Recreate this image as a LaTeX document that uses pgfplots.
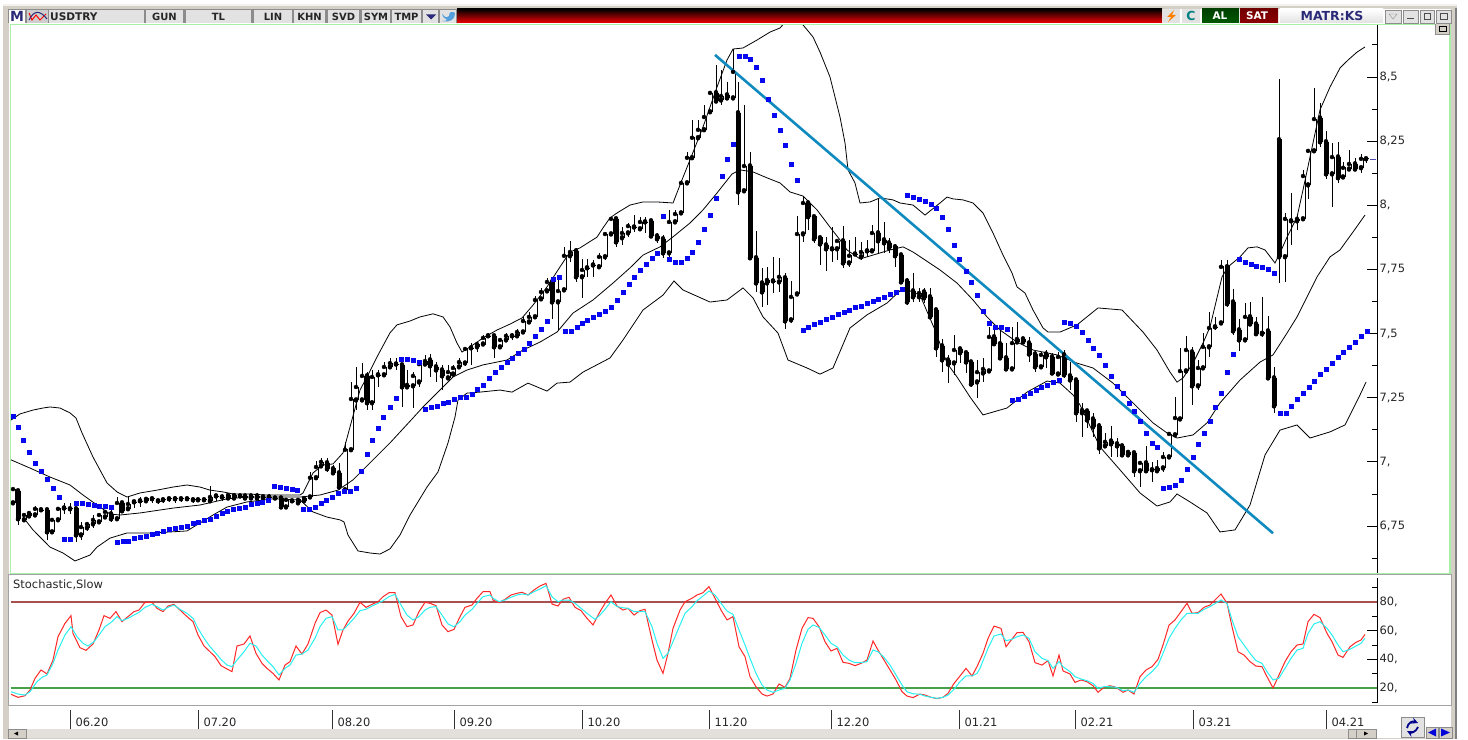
\documentclass[border=0pt]{standalone}
\usepackage{fontspec}
\setmainfont{DejaVu Sans}
\usepackage{pgfplots}
\usepackage{pgfplotstable}
\pgfplotsset{compat=1.18}
\definecolor{winbg}{HTML}{D4D0C8}
\definecolor{fieldbg}{HTML}{E2E2E2}
\definecolor{fieldbd}{HTML}{8C8C8C}
\definecolor{greenln}{HTML}{A8F0A8}
\definecolor{trend}{HTML}{0F8ABF}
\definecolor{sarblue}{HTML}{0808F0}
\definecolor{obred}{HTML}{A85050}
\definecolor{osgreen}{HTML}{48A048}
\definecolor{navy}{HTML}{2A2A78}
\definecolor{stred}{HTML}{FF2828}
\definecolor{stcyan}{HTML}{28F0F0}
\pgfplotstableread{
x o h l c
13 6.840 6.898 6.832 6.894
18 6.887 6.887 6.755 6.778
24 6.774 6.801 6.766 6.793
29 6.789 6.805 6.785 6.801
35 6.793 6.828 6.793 6.817
41 6.813 6.820 6.805 6.813
47 6.813 6.813 6.696 6.727
52 6.727 6.782 6.727 6.774
58 6.774 6.820 6.774 6.817
64 6.820 6.840 6.797 6.820
70 6.817 6.840 6.797 6.817
76 6.817 6.817 6.688 6.715
81 6.715 6.766 6.696 6.746
87 6.743 6.766 6.731 6.758
93 6.758 6.793 6.743 6.774
99 6.766 6.793 6.766 6.793
105 6.785 6.813 6.785 6.805
111 6.797 6.820 6.766 6.778
117 6.778 6.863 6.778 6.840
122 6.840 6.840 6.805 6.809
128 6.817 6.863 6.817 6.836
134 6.844 6.852 6.820 6.844
140 6.848 6.863 6.824 6.848
146 6.848 6.856 6.848 6.856
152 6.856 6.863 6.840 6.856
158 6.848 6.856 6.836 6.848
163 6.852 6.859 6.840 6.852
169 6.856 6.859 6.844 6.856
175 6.856 6.867 6.840 6.856
181 6.856 6.863 6.844 6.856
187 6.856 6.863 6.848 6.856
193 6.852 6.856 6.840 6.852
198 6.852 6.856 6.844 6.852
204 6.852 6.856 6.844 6.852
210 6.848 6.906 6.848 6.863
216 6.867 6.875 6.848 6.867
222 6.863 6.875 6.848 6.863
228 6.859 6.875 6.856 6.871
234 6.859 6.875 6.856 6.871
240 6.867 6.875 6.863 6.867
245 6.867 6.875 6.859 6.859
251 6.867 6.875 6.859 6.859
257 6.867 6.879 6.856 6.859
263 6.863 6.871 6.856 6.859
269 6.863 6.875 6.859 6.863
275 6.859 6.859 6.856 6.859
281 6.859 6.859 6.817 6.824
286 6.824 6.852 6.824 6.852
292 6.848 6.852 6.844 6.848
298 6.840 6.852 6.840 6.852
304 6.848 6.863 6.848 6.859
310 6.863 6.961 6.859 6.938
316 6.938 7.004 6.934 6.980
321 6.984 7.016 6.980 7.000
327 6.996 7.016 6.961 6.973
333 6.973 6.988 6.950 6.957
339 6.957 6.996 6.891 6.902
345 6.891 7.078 6.891 7.047
351 7.047 7.311 7.047 7.245
356 7.241 7.370 7.202 7.292
362 7.241 7.385 7.241 7.335
367 7.335 7.350 7.202 7.230
372 7.230 7.358 7.202 7.331
378 7.339 7.358 7.292 7.339
384 7.339 7.389 7.335 7.370
390 7.370 7.405 7.366 7.385
396 7.381 7.405 7.358 7.381
402 7.378 7.385 7.214 7.292
407 7.292 7.358 7.292 7.300
413 7.296 7.350 7.210 7.335
419 7.311 7.397 7.292 7.381
425 7.381 7.417 7.378 7.393
430 7.397 7.420 7.331 7.374
436 7.370 7.389 7.311 7.358
442 7.358 7.378 7.280 7.335
448 7.327 7.378 7.327 7.350
453 7.342 7.378 7.331 7.366
459 7.370 7.405 7.366 7.389
465 7.385 7.448 7.374 7.440
471 7.444 7.463 7.378 7.444
477 7.448 7.463 7.428 7.459
483 7.459 7.495 7.456 7.483
488 7.491 7.503 7.483 7.491
494 7.491 7.495 7.405 7.448
500 7.448 7.483 7.444 7.475
506 7.475 7.503 7.467 7.491
512 7.491 7.503 7.475 7.491
517 7.491 7.518 7.487 7.506
523 7.506 7.565 7.503 7.549
529 7.545 7.584 7.541 7.565
535 7.565 7.647 7.561 7.631
541 7.635 7.678 7.627 7.662
547 7.666 7.717 7.662 7.701
552 7.701 7.721 7.557 7.623
558 7.623 7.721 7.514 7.666
564 7.670 7.838 7.670 7.803
570 7.803 7.861 7.779 7.818
576 7.822 7.834 7.701 7.721
582 7.721 7.791 7.639 7.748
587 7.756 7.791 7.721 7.756
593 7.767 7.787 7.721 7.767
599 7.760 7.814 7.756 7.799
605 7.799 7.896 7.787 7.888
611 7.888 7.951 7.884 7.947
616 7.947 7.951 7.838 7.857
622 7.873 7.915 7.845 7.892
628 7.892 7.931 7.876 7.919
634 7.915 7.962 7.896 7.915
640 7.908 7.954 7.908 7.935
645 7.935 7.954 7.892 7.935
651 7.939 7.943 7.873 7.880
657 7.880 7.892 7.853 7.869
663 7.869 7.884 7.795 7.814
669 7.814 7.982 7.799 7.935
675 7.935 7.982 7.935 7.966
681 7.970 8.099 7.970 8.087
687 8.087 8.208 8.087 8.185
692 8.185 8.333 8.185 8.263
698 8.263 8.333 8.263 8.294
704 8.294 8.391 8.294 8.344
710 8.364 8.442 8.360 8.438
716 8.438 8.547 8.402 8.406
721 8.410 8.527 8.391 8.426
727 8.430 8.481 8.418 8.418
733 8.418 8.609 8.418 8.520
738 8.360 8.481 8.001 8.052
744 8.056 8.391 8.052 8.153
750 8.153 8.208 7.787 7.795
756 7.795 7.900 7.662 7.697
762 7.697 7.756 7.604 7.662
767 7.697 7.760 7.612 7.709
773 7.705 7.799 7.658 7.705
779 7.701 7.795 7.662 7.721
785 7.717 7.736 7.518 7.549
791 7.553 7.705 7.541 7.643
797 7.654 7.958 7.650 7.888
803 7.888 8.036 7.857 8.009
808 8.009 8.009 7.904 7.955
814 7.955 7.955 7.853 7.869
820 7.873 7.877 7.767 7.849
826 7.845 7.877 7.744 7.830
832 7.830 7.915 7.779 7.830
837 7.830 7.865 7.787 7.861
843 7.861 7.919 7.756 7.775
849 7.775 7.865 7.760 7.803
855 7.810 7.877 7.806 7.810
861 7.799 7.857 7.787 7.818
867 7.822 7.865 7.799 7.822
872 7.822 7.923 7.822 7.892
878 7.892 8.029 7.814 7.861
884 7.865 7.935 7.814 7.853
889 7.853 7.873 7.814 7.834
895 7.838 7.849 7.760 7.803
901 7.806 7.806 7.697 7.701
907 7.705 7.717 7.612 7.623
913 7.666 7.736 7.623 7.643
919 7.643 7.678 7.623 7.658
924 7.662 7.678 7.619 7.639
930 7.643 7.678 7.553 7.565
936 7.592 7.592 7.409 7.444
942 7.452 7.479 7.350 7.397
948 7.397 7.417 7.307 7.381
954 7.385 7.495 7.339 7.436
960 7.440 7.444 7.385 7.425
966 7.425 7.425 7.346 7.389
971 7.389 7.389 7.292 7.303
977 7.311 7.397 7.249 7.350
983 7.346 7.405 7.311 7.362
989 7.354 7.526 7.350 7.487
994 7.487 7.526 7.456 7.460
1000 7.460 7.514 7.397 7.405
1006 7.405 7.463 7.358 7.362
1012 7.362 7.526 7.362 7.463
1017 7.467 7.545 7.467 7.479
1023 7.479 7.487 7.463 7.467
1029 7.463 7.487 7.389 7.420
1035 7.420 7.436 7.350 7.370
1041 7.370 7.428 7.366 7.417
1046 7.420 7.436 7.366 7.409
1052 7.409 7.425 7.339 7.346
1058 7.342 7.428 7.339 7.409
1064 7.417 7.436 7.327 7.339
1070 7.335 7.389 7.280 7.319
1076 7.319 7.319 7.156 7.191
1082 7.191 7.230 7.097 7.202
1087 7.198 7.202 7.132 7.163
1093 7.167 7.191 7.097 7.136
1099 7.140 7.152 7.031 7.054
1105 7.062 7.113 7.054 7.078
1111 7.081 7.140 7.019 7.070
1117 7.070 7.093 7.019 7.062
1122 7.062 7.070 7.019 7.027
1128 7.027 7.047 7.019 7.039
1134 7.035 7.039 6.942 6.965
1140 6.965 7.000 6.903 6.996
1146 6.996 7.062 6.961 6.965
1152 6.969 7.000 6.922 6.969
1157 6.965 7.008 6.961 6.976
1163 6.976 7.039 6.961 7.019
1169 7.019 7.117 7.015 7.109
1175 7.105 7.253 7.097 7.171
1180 7.167 7.444 7.163 7.354
1186 7.354 7.491 7.350 7.436
1192 7.428 7.448 7.222 7.296
1198 7.296 7.397 7.280 7.366
1203 7.366 7.503 7.366 7.448
1209 7.448 7.584 7.409 7.522
1215 7.526 7.565 7.514 7.526
1221 7.541 7.787 7.533 7.760
1227 7.760 7.787 7.604 7.616
1233 7.623 7.674 7.495 7.510
1239 7.514 7.557 7.432 7.475
1245 7.475 7.619 7.475 7.565
1250 7.565 7.623 7.537 7.537
1256 7.537 7.565 7.495 7.499
1262 7.499 7.643 7.487 7.503
1268 7.510 7.569 7.323 7.327
1274 7.327 7.370 7.190 7.218
1279 8.255 8.492 7.697 7.799
1285 7.799 7.970 7.701 7.947
1291 7.939 8.048 7.845 7.939
1297 7.939 7.962 7.904 7.947
1303 7.947 8.138 7.943 8.114
1308 8.079 8.216 8.025 8.212
1314 8.212 8.457 8.204 8.336
1320 8.340 8.399 8.227 8.247
1326 8.247 8.289 8.103 8.122
1332 8.122 8.243 7.993 8.188
1338 8.188 8.247 8.087 8.107
1343 8.110 8.169 8.110 8.146
1349 8.141 8.216 8.138 8.161
1355 8.161 8.185 8.134 8.141
1361 8.146 8.200 8.126 8.181
1366 8.181 8.188 8.165 8.181
}\candles
\begin{document}
\begin{tikzpicture}
% ---------- window chrome ----------
\begin{scope}[x=1bp,y=-1bp]
\path[use as bounding box] (0,0) rectangle (1468,739);
\fill[white] (0,0) rectangle (1468,739);
\fill[winbg] (3,4) rectangle (1457,739);
\fill[white!70!winbg] (3,4) rectangle (1457,6);
\fill[gray] (1455,8) rectangle (1457,739);
\fill[white] (9,9) rectangle (1451,729);
% green frame of the price panel, grey frame of the lower panel
\draw[greenln,line width=1.2bp] (10.5,573.5) -- (10.5,24.5) -- (1450,24.5) -- (1450,573.5) -- cycle;
\draw[fieldbd!80!white,line width=1bp] (9,574.6) -- (1451,574.6);
\draw[fieldbd!80!white,line width=1bp] (8.5,574) -- (8.5,705.5) -- (1451,705.5) -- (1451,574);
% title bar
\fill[fieldbd] (8,9) rectangle (457,23);
\fill[white] (9,10) rectangle (25,23);
\node[font=\fontsize{14}{14}\selectfont\bfseries,text=navy,inner sep=0pt] at (17,16.5) {M};
\fill[fieldbg!80!gray] (27,10) rectangle (48,23);
\draw[red,line width=1pt] (29,13) -- (32,20) -- (36,15) -- (40,20) -- (46,14);
\draw[navy,line width=1pt] (29,20) .. controls (34,10) and (40,10) .. (47,19);
\foreach \a/\b/\t in {49/144/,146/183/GUN,186/251/TL,254/292/LIN,294/325/KHN,328/359/SVD,362/390/SYM,392/421/TMP}{
  \fill[fieldbg] (\a,10) rectangle (\b,23);
  \node[font=\fontsize{10}{10}\selectfont\bfseries,text=black!85,inner sep=0pt] at ({(\a+\b)/2},16.5) {\t};
}
\node[font=\fontsize{10.6}{10}\selectfont\bfseries,text=black!85,inner sep=0pt,anchor=west] at (50,16.5) {USDTRY};
\fill[fieldbg] (423,10) rectangle (438,23);
\fill[navy] (426,14.5) -- (436,14.5) -- (431,19.5) -- cycle;
\fill[fieldbg] (440,10) rectangle (456,23);
\fill[cyan!65!blue!70!white] (442,14) .. controls (446,19) and (448,17) .. (449,16) .. controls (449,12) and (452,11) .. (454,12) -- (455,14) .. controls (455,19) and (450,23) .. (442,21) .. controls (446,21) and (447,20) .. (447,19.5) .. controls (444,19) and (443,17) .. (442,14) -- cycle;
\shade[top color=black,bottom color=red!95!black] (457,9) rectangle (1162,23);
\fill[fieldbg] (1163,9) rectangle (1180,23);
\fill[orange] (1174,10) -- (1167,17) -- (1171,17) -- (1168,22) -- (1176,15) -- (1172,15) -- cycle;
\fill[fieldbg] (1182,9) rectangle (1200,23);
\node[font=\fontsize{12.5}{12}\selectfont\bfseries,text=teal,inner sep=0pt] at (1191,16) {C};
\shade[top color=green!25!black,bottom color=green!35!black] (1202,9) rectangle (1239,23);
\node[font=\fontsize{10.5}{10}\selectfont\bfseries,text=white,inner sep=0pt] at (1220,16) {AL};
\shade[top color=red!45!black,bottom color=red!55!black] (1240,9) rectangle (1278,23);
\node[font=\fontsize{10.5}{10}\selectfont\bfseries,text=white,inner sep=0pt] at (1257,16) {SAT};
\shade[top color=white,bottom color=fieldbg] (1280,9) rectangle (1383,23);
\node[font=\fontsize{12.5}{12}\selectfont\bfseries,text=navy,inner sep=0pt] at (1332,16) {MATR:KS};
\foreach \a/\b in {1385/1401,1403/1418,1420/1434,1436/1451}{
  \fill[fieldbg] (\a,10) rectangle (\b,23);
  \draw[fieldbd,line width=.5bp] (\a,10) rectangle (\b,23);
}
\draw[fieldbd] (1389,14) -- (1397,14) -- (1393,19) -- cycle;
\draw[black!70,line width=.8bp] (1407,18) -- (1414,18);
\draw[black!70,line width=.7bp] (1424,13) rectangle (1430,19);
\draw[black!70,line width=.7bp] (1440,13) rectangle (1447,19);
\fill[fieldbd] (1435,24) rectangle (1450,35);
\fill[winbg] (1435.5,24.5) rectangle (1449,34);
\draw[black,line width=.9bp] (1439,26.5) rectangle (1446,31.5);
% scrollbar
\fill[winbg!65!white] (26,729) rectangle (1348,738);
\fill[winbg] (8,729) rectangle (26,738);
\draw[fieldbd,line width=.5bp] (8,729) rectangle (26,738);
\fill[black] (18,731.5) -- (18,735.5) -- (14,733.5) -- cycle;
\fill[winbg] (1348,729) rectangle (1376,738);
\draw[fieldbd,line width=.5bp] (1348,729) rectangle (1356,738);
\draw[fieldbd,line width=.5bp] (1356,729) rectangle (1376,738);
\fill[black] (1364,731.5) -- (1364,735.5) -- (1368,733.5) -- cycle;
\fill[white] (1377,706) rectangle (1451,729);
\fill[white] (1377,729) rectangle (1451,738);
\fill[fieldbg] (1401,717) rectangle (1424,737);
\draw[fieldbd,line width=.8bp] (1401,717) rectangle (1424,737);
\draw[blue!55!black,line width=1.8bp,->,>=stealth] (1407,728) .. controls (1408,722) and (1413,721) .. (1418,723);
\draw[blue!55!black,line width=1.8bp,->,>=stealth] (1418,727) .. controls (1416,732) and (1411,733) .. (1407,731);
\fill[winbg] (1426,727) rectangle (1438,738);
\fill[winbg] (1439,727) rectangle (1452,738);
\draw[fieldbd,line width=.5bp] (1426,727) rectangle (1438,738);
\draw[fieldbd,line width=.5bp] (1439,727) rectangle (1452,738);
\fill[blue!85!black] (1436,728.5) -- (1436,736.5) -- (1428,732.5) -- cycle;
\fill[blue!85!black] (1441,728.5) -- (1441,736.5) -- (1450,732.5) -- cycle;
\node[font=\fontsize{11.5}{12}\selectfont,text=black!85,anchor=west,inner sep=0pt] at (13,585) {Stochastic,Slow};
\end{scope}
% ---------- price panel ----------
\begin{axis}[
  at={(11bp,-573bp)},anchor=south west,scale only axis,
  width=1366bp,height=548bp,
  xmin=11,xmax=1377,ymin=6.567,ymax=8.7026,
  axis x line=none,axis y line=right,
  axis line style={black,line width=1bp,-},
  tick align=inside,
  ytick={6.75,7,7.25,7.5,7.75,8,8.25,8.5},
  yticklabels={{6,75},{7,},{7,25},{7,5},{7,75},{8,},{8,25},{8,5}},
  minor ytick={6.625,6.875,7.125,7.375,7.625,7.875,8.125,8.375,8.625},
  major tick length=10bp,minor tick length=5bp,
  tick style={black,line width=.9bp},
  yticklabel style={font=\fontsize{11.5}{12}\selectfont,anchor=west,text=black!85,xshift=-1bp},
]
% wicks
\addplot[black,only marks,mark=none,forget plot,
  error bars/.cd,y dir=both,y explicit,error mark=none,
  error bar style={black,line width=.9bp}]
  table[x=x,y=c,y error plus expr=\thisrow{h}-\thisrow{c},y error minus expr=\thisrow{c}-\thisrow{l}] {\candles};
% bodies
\addplot[black,only marks,mark=none,forget plot,
  error bars/.cd,y dir=plus,y explicit,error mark=none,
  error bar style={black,line width=5bp}]
  table[x=x,y expr={min(\thisrow{o},\thisrow{c})-0.0015},y error plus expr={abs(\thisrow{c}-\thisrow{o})+0.003}] {\candles};
\addplot[black,only marks,mark=none,forget plot,
  error bars/.cd,y dir=plus,y explicit,error mark=none,
  error bar style={white,line width=3.4bp}]
  table[x=x,y expr={\thisrow{o}+0.0025},y error plus expr={max(\thisrow{c}-\thisrow{o}-0.005,0)}] {\candles};
% Bollinger upper
\addplot[black,line width=.8bp,mark=none,forget plot] coordinates {(11,7.163)(20,7.187)(33,7.202)(43,7.210)(50,7.214)(60,7.210)(70,7.191)(76,7.171)(82,7.113)(93,7.019)(107,6.918)(117,6.883)(127,6.863)(140,6.879)(157,6.890)(173,6.902)(187,6.910)(200,6.902)(210,6.890)(223,6.883)(233,6.875)(247,6.875)(267,6.871)(300,6.871)(303,6.879)(313,6.957)(323,6.988)(333,6.992)(343,7.035)(350,7.136)(360,7.280)(368,7.339)(377,7.409)(390,7.503)(397,7.534)(410,7.549)(420,7.565)(433,7.577)(443,7.565)(450,7.526)(457,7.463)(462,7.428)(473,7.456)(483,7.483)(497,7.514)(510,7.537)(522,7.561)(533,7.611)(547,7.682)(560,7.760)(570,7.818)(580,7.834)(597,7.876)(603,7.912)(610,7.951)(617,7.970)(630,8.001)(643,8.013)(657,8.013)(673,8.009)(682,8.099)(690,8.177)(703,8.305)(717,8.461)(727,8.566)(733,8.609)(743,8.613)(757,8.644)(770,8.675)(780,8.691)(787,8.722)(800,8.722)(803,8.703)(813,8.656)(820,8.597)(830,8.500)(840,8.344)(845,8.243)(848,8.138)(855,8.087)(860,8.009)(870,8.013)(880,8.029)(893,8.021)(900,8.009)(913,8.001)(925,7.962)(940,8.009)(947,8.032)(953,8.025)(963,8.021)(973,8.009)(983,7.970)(993,7.892)(1003,7.806)(1012,7.736)(1017,7.682)(1025,7.658)(1033,7.592)(1043,7.522)(1048,7.506)(1060,7.506)(1077,7.534)(1098,7.600)(1122,7.592)(1143,7.506)(1157,7.436)(1170,7.350)(1177,7.311)(1183,7.327)(1193,7.385)(1203,7.463)(1210,7.526)(1222,7.721)(1228,7.760)(1240,7.799)(1248,7.834)(1257,7.838)(1265,7.826)(1275,7.775)(1280,7.814)(1287,7.876)(1297,7.954)(1303,8.060)(1313,8.243)(1320,8.372)(1330,8.461)(1340,8.535)(1348,8.566)(1357,8.597)(1365,8.617)};
% Bollinger middle
\addplot[black,line width=.8bp,mark=none,forget plot] coordinates {(11,7.008)(30,6.976)(50,6.941)(70,6.910)(83,6.871)(97,6.832)(110,6.797)(120,6.793)(140,6.801)(173,6.820)(200,6.832)(227,6.856)(247,6.863)(300,6.863)(320,6.871)(338,6.890)(353,6.930)(370,6.996)(390,7.074)(412,7.167)(423,7.214)(440,7.280)(453,7.331)(467,7.358)(483,7.378)(507,7.397)(523,7.436)(540,7.467)(557,7.506)(573,7.580)(593,7.631)(613,7.697)(630,7.756)(643,7.806)(660,7.838)(673,7.877)(690,7.931)(703,7.982)(717,8.048)(732,8.122)(740,8.138)(753,8.130)(767,8.107)(780,8.087)(790,8.052)(803,8.036)(817,7.982)(830,7.915)(840,7.865)(847,7.826)(860,7.791)(873,7.806)(890,7.826)(903,7.838)(913,7.818)(925,7.787)(940,7.748)(957,7.697)(973,7.631)(987,7.565)(1000,7.514)(1017,7.467)(1033,7.436)(1057,7.417)(1077,7.385)(1093,7.366)(1113,7.307)(1133,7.230)(1153,7.152)(1167,7.113)(1177,7.093)(1193,7.105)(1207,7.152)(1220,7.230)(1240,7.319)(1260,7.389)(1273,7.417)(1287,7.502)(1297,7.565)(1307,7.643)(1317,7.721)(1330,7.799)(1340,7.826)(1353,7.896)(1365,7.962)};
% Bollinger lower
\addplot[black,line width=.8bp,mark=none,forget plot] coordinates {(23,6.785)(33,6.735)(50,6.668)(63,6.645)(75,6.614)(90,6.637)(97,6.668)(110,6.703)(127,6.723)(153,6.723)(187,6.731)(200,6.762)(213,6.793)(227,6.824)(247,6.844)(273,6.856)(300,6.852)(313,6.805)(327,6.785)(340,6.774)(344,6.766)(348,6.715)(358,6.653)(370,6.645)(380,6.641)(390,6.661)(400,6.715)(410,6.793)(427,6.902)(438,6.961)(448,7.074)(455,7.175)(458,7.241)(467,7.268)(480,7.272)(500,7.280)(512,7.272)(528,7.307)(547,7.276)(557,7.307)(570,7.311)(583,7.350)(610,7.405)(623,7.475)(643,7.592)(663,7.650)(674,7.705)(683,7.670)(710,7.623)(727,7.631)(743,7.678)(753,7.639)(763,7.565)(778,7.502)(788,7.397)(807,7.366)(820,7.342)(833,7.366)(850,7.522)(867,7.573)(887,7.619)(903,7.678)(920,7.650)(935,7.514)(947,7.385)(957,7.331)(970,7.253)(983,7.183)(1007,7.210)(1027,7.272)(1047,7.315)(1060,7.307)(1073,7.261)(1080,7.222)(1100,7.058)(1120,6.969)(1140,6.879)(1157,6.828)(1170,6.844)(1177,6.875)(1190,6.844)(1207,6.801)(1220,6.727)(1235,6.735)(1250,6.832)(1265,7.027)(1280,7.124)(1297,7.144)(1310,7.093)(1330,7.117)(1345,7.144)(1360,7.261)(1366,7.311)};
% Parabolic SAR
\addplot[sarblue,only marks,mark=square*,mark size=2.1bp,mark options={draw=none,fill=sarblue},forget plot] coordinates {(13,7.179)(18,7.136)(23,7.085)(29,7.039)(35,6.996)(41,6.965)(47,6.934)(53,6.898)(59,6.863)(64,6.700)(70,6.700)(76,6.840)(82,6.840)(88,6.836)(94,6.832)(99,6.828)(105,6.828)(111,6.824)(117,6.688)(123,6.692)(128,6.692)(134,6.703)(140,6.707)(146,6.711)(152,6.719)(157,6.723)(163,6.731)(169,6.738)(175,6.742)(181,6.746)(187,6.750)(193,6.762)(198,6.766)(204,6.774)(210,6.778)(216,6.789)(222,6.801)(227,6.809)(233,6.817)(239,6.820)(245,6.824)(251,6.836)(257,6.840)(262,6.844)(268,6.852)(274,6.906)(280,6.902)(286,6.898)(292,6.894)(297,6.890)(303,6.817)(309,6.817)(315,6.824)(321,6.840)(326,6.852)(332,6.863)(338,6.879)(344,6.887)(350,6.887)(356,6.898)(361,6.965)(367,7.031)(372,7.085)(378,7.132)(383,7.175)(390,7.214)(396,7.249)(401,7.401)(407,7.401)(413,7.397)(419,7.389)(425,7.206)(431,7.214)(437,7.218)(443,7.230)(448,7.233)(454,7.245)(460,7.253)(466,7.253)(472,7.265)(477,7.284)(483,7.300)(489,7.327)(495,7.350)(501,7.370)(507,7.389)(512,7.405)(518,7.424)(524,7.440)(529,7.463)(535,7.491)(541,7.518)(547,7.549)(553,7.713)(559,7.721)(565,7.510)(571,7.510)(577,7.526)(582,7.541)(587,7.553)(593,7.565)(599,7.576)(605,7.588)(611,7.604)(617,7.631)(623,7.662)(629,7.693)(634,7.721)(640,7.748)(646,7.771)(652,7.795)(657,7.814)(663,7.958)(669,7.791)(675,7.779)(681,7.779)(687,7.795)(692,7.818)(698,7.857)(704,7.908)(710,7.962)(716,8.029)(722,8.114)(727,8.181)(733,8.239)(739,8.582)(745,8.582)(750,8.570)(756,8.539)(762,8.488)(768,8.414)(774,8.352)(780,8.294)(785,8.235)(791,8.161)(797,8.099)(803,7.514)(808,7.526)(814,7.537)(820,7.545)(826,7.557)(832,7.565)(838,7.576)(844,7.584)(849,7.592)(855,7.604)(861,7.608)(867,7.619)(873,7.627)(878,7.635)(884,7.643)(890,7.654)(896,7.662)(902,7.674)(907,8.040)(913,8.032)(919,8.025)(925,8.017)(931,8.005)(936,7.990)(942,7.954)(948,7.908)(954,7.845)(959,7.791)(966,7.744)(971,7.701)(977,7.650)(983,7.588)(989,7.541)(995,7.526)(1001,7.526)(1007,7.518)(1012,7.241)(1018,7.245)(1024,7.257)(1030,7.268)(1036,7.280)(1041,7.292)(1047,7.300)(1053,7.311)(1059,7.319)(1064,7.545)(1070,7.541)(1076,7.530)(1082,7.506)(1088,7.475)(1093,7.444)(1099,7.417)(1105,7.378)(1111,7.335)(1117,7.296)(1123,7.268)(1129,7.229)(1134,7.198)(1140,7.159)(1146,7.113)(1152,7.074)(1157,7.058)(1163,6.898)(1169,6.902)(1175,6.910)(1181,6.930)(1187,6.972)(1193,7.019)(1198,7.070)(1204,7.113)(1210,7.159)(1215,7.214)(1221,7.268)(1227,7.350)(1233,7.420)(1239,7.791)(1245,7.779)(1251,7.771)(1256,7.764)(1262,7.760)(1268,7.752)(1274,7.736)(1280,7.191)(1286,7.191)(1291,7.218)(1297,7.245)(1303,7.268)(1309,7.292)(1314,7.315)(1320,7.342)(1326,7.362)(1332,7.385)(1338,7.409)(1343,7.428)(1349,7.448)(1355,7.467)(1361,7.491)(1367,7.510)};
% trend line and last-price mark
\addplot[trend,line width=2.6bp,mark=none,forget plot] coordinates {(715,8.586)(1273,6.722)};
\addplot[blue!40!gray,line width=1bp,mark=none,forget plot] coordinates {(1370,8.177)(1376,8.177)};
\end{axis}
% ---------- stochastic panel ----------
\begin{axis}[
  at={(11bp,-703bp)},anchor=south west,scale only axis,
  width=1366bp,height=125bp,
  xmin=11,xmax=1377,ymin=9.53,ymax=96.75,
  axis x line=none,axis y line=right,
  axis line style={black,line width=1bp,-},
  tick align=inside,
  ytick={20,40,60,80},yticklabels={{20,},{40,},{60,},{80,}},
  minor ytick={10,30,50,70,90},
  major tick length=10bp,minor tick length=5bp,
  tick style={black,line width=.9bp},
  yticklabel style={font=\fontsize{11.5}{12}\selectfont,anchor=west,text=black!85,xshift=-1bp},
]
\addplot[obred,line width=1.3bp,mark=none,forget plot] coordinates {(11,80)(1377,80)};
\addplot[osgreen,line width=1.3bp,mark=none,forget plot] coordinates {(11,20)(1377,20)};
% %K
\addplot[stred,line width=1bp,mark=none,forget plot] coordinates {(11,15.6)(18,13.5)(25,14.6)(30,18.6)(35,26.7)(41,32.6)(47,29.8)(53,39.5)(58,55.8)(65,65.1)(71,70.5)(73,58.1)(80,48.1)(86,46.3)(93,50.7)(99,60.5)(104,70.5)(110,68.6)(116,73.3)(122,66.3)(128,69.8)(134,73.3)(139,74.4)(145,79.8)(152,79.8)(157,75.6)(163,73.3)(168,77.2)(174,78.4)(180,74.4)(187,69.8)(193,66.3)(198,57.0)(204,49.3)(210,45.3)(215,41.9)(221,35.6)(227,33.3)(232,31.4)(237,49.3)(244,50.7)(250,56.3)(256,44.2)(262,37.2)(267,33.7)(273,30.2)(279,25.6)(285,36.0)(290,38.4)(296,49.3)(302,43.7)(308,50.7)(315,65.1)(320,72.6)(326,74.4)(332,70.9)(338,50.5)(343,60.5)(348,66.7)(354,72.1)(360,79.8)(366,76.3)(372,78.4)(378,80.2)(383,83.7)(389,86.5)(395,86.5)(401,69.8)(407,62.8)(413,64.0)(419,73.3)(425,79.8)(430,79.1)(436,77.5)(442,64.0)(448,59.3)(454,60.9)(460,69.8)(465,76.3)(472,77.9)(477,82.6)(483,87.2)(490,87.2)(493,81.4)(499,79.5)(505,81.9)(511,84.9)(517,86.1)(522,86.8)(528,84.9)(534,88.4)(540,91.2)(546,93.0)(552,78.6)(558,77.2)(563,81.9)(569,83.3)(575,76.3)(581,74.0)(587,68.6)(593,64.0)(600,73.3)(605,79.1)(611,84.9)(617,77.2)(623,74.4)(628,75.6)(634,70.9)(640,74.0)(645,74.9)(652,53.5)(657,39.5)(663,30.2)(668,44.2)(673,61.6)(680,74.4)(685,80.2)(692,82.6)(697,84.9)(703,86.5)(709,90.7)(715,82.6)(721,74.4)(727,67.5)(733,69.8)(739,48.8)(745,41.9)(750,27.9)(756,20.9)(762,15.8)(767,14.4)(773,15.8)(779,22.8)(785,20.5)(790,26.7)(796,46.5)(802,61.6)(808,69.1)(813,68.6)(819,62.8)(825,52.3)(831,45.8)(837,47.7)(843,37.9)(849,37.2)(855,35.6)(861,37.2)(867,39.5)(873,52.8)(878,46.5)(884,39.5)(890,32.6)(896,25.6)(902,17.4)(907,14.4)(913,13.3)(920,15.8)(925,15.1)(931,13.5)(937,12.6)(943,13.5)(948,16.3)(954,23.2)(960,28.4)(966,33.7)(972,28.4)(977,34.9)(980,39.5)(983,44.2)(988,54.6)(994,63.2)(1001,61.6)(1006,48.8)(1012,54.2)(1017,58.6)(1023,58.8)(1029,52.3)(1035,37.7)(1042,36.0)(1048,39.1)(1053,28.4)(1059,43.0)(1063,31.9)(1070,29.8)(1075,23.9)(1081,25.6)(1087,24.4)(1093,21.6)(1098,17.0)(1104,20.5)(1110,21.6)(1116,20.5)(1123,17.0)(1128,18.6)(1134,15.8)(1140,27.9)(1146,32.6)(1152,34.9)(1158,40.0)(1163,50.0)(1169,63.9)(1175,67.5)(1181,73.3)(1187,79.1)(1192,72.1)(1198,72.6)(1204,76.3)(1210,77.9)(1221,85.6)(1227,79.1)(1232,62.8)(1238,45.3)(1244,43.0)(1250,38.4)(1256,35.3)(1262,34.9)(1267,27.9)(1273,20.0)(1279,29.1)(1285,38.4)(1291,45.3)(1297,50.0)(1303,50.7)(1308,66.3)(1314,71.4)(1320,69.1)(1327,58.1)(1332,52.3)(1338,43.0)(1343,41.4)(1350,48.8)(1356,51.9)(1361,53.5)(1365,57.4)};
% %D
\addplot[stcyan,line width=1bp,mark=none,forget plot] coordinates {(11,17.4)(18,15.8)(25,15.1)(30,17.4)(37,24.4)(42,27.4)(47,29.1)(53,37.2)(58,46.5)(65,57.0)(71,62.8)(77,55.8)(83,51.2)(88,49.3)(94,52.3)(99,57.0)(105,62.8)(112,66.3)(117,69.8)(122,67.0)(128,68.6)(134,70.9)(139,72.8)(145,76.3)(152,78.4)(157,76.8)(163,74.4)(168,76.3)(174,77.9)(180,74.9)(187,72.1)(193,68.6)(198,61.6)(204,54.7)(210,48.8)(215,44.9)(221,40.0)(227,36.0)(232,34.9)(237,39.5)(244,45.3)(250,51.2)(256,49.3)(262,43.0)(267,39.1)(273,34.9)(279,29.1)(285,33.7)(290,36.0)(296,43.0)(302,43.7)(308,46.5)(315,54.7)(320,62.8)(326,68.6)(332,69.8)(338,60.5)(343,60.5)(348,64.0)(354,68.6)(360,74.0)(366,74.9)(372,77.2)(378,79.1)(383,80.9)(389,83.7)(395,85.4)(401,77.9)(407,70.9)(413,67.5)(419,69.8)(425,74.4)(430,76.3)(436,76.8)(442,70.9)(448,64.7)(454,62.8)(460,66.3)(465,70.9)(472,74.9)(477,79.1)(483,83.7)(490,84.9)(493,82.6)(499,80.2)(505,81.4)(511,83.3)(517,84.9)(522,85.6)(528,84.9)(534,87.2)(540,89.1)(546,91.4)(552,83.7)(558,80.2)(563,81.4)(569,81.4)(575,79.1)(581,75.6)(587,72.1)(595,67.9)(600,70.9)(605,74.9)(611,80.2)(617,76.8)(623,76.0)(628,75.6)(634,73.3)(640,73.3)(645,73.3)(652,62.8)(657,51.2)(663,40.7)(668,44.2)(673,52.3)(680,64.0)(685,72.1)(692,76.8)(697,80.9)(703,84.2)(709,87.7)(715,84.9)(721,79.1)(727,73.7)(733,71.4)(739,60.5)(745,50.0)(750,40.7)(756,30.2)(762,22.1)(767,18.6)(773,17.0)(779,18.6)(785,19.8)(790,25.6)(796,37.2)(802,51.2)(808,60.9)(813,64.0)(819,62.3)(825,57.0)(831,51.2)(837,48.8)(843,43.0)(849,39.5)(855,37.7)(861,37.7)(867,38.4)(873,46.5)(878,45.3)(884,41.4)(890,36.0)(896,29.1)(902,22.1)(907,17.4)(913,16.0)(920,15.6)(925,14.4)(931,13.5)(937,12.8)(943,13.5)(948,15.1)(954,19.1)(960,24.4)(966,28.4)(972,28.4)(977,30.2)(980,33.7)(988,47.7)(994,56.3)(1001,57.7)(1006,53.0)(1012,54.0)(1017,55.8)(1023,57.0)(1029,54.7)(1035,45.3)(1042,40.7)(1048,39.1)(1053,33.7)(1059,38.4)(1063,34.9)(1070,31.4)(1075,27.9)(1081,26.3)(1087,25.1)(1093,23.2)(1098,19.8)(1104,20.9)(1110,20.9)(1116,20.5)(1123,18.1)(1128,18.6)(1134,17.0)(1140,23.2)(1146,27.9)(1152,31.4)(1158,36.0)(1163,44.2)(1169,54.7)(1175,61.6)(1181,67.5)(1187,72.1)(1192,72.1)(1198,72.1)(1204,74.9)(1210,76.8)(1221,81.4)(1227,79.1)(1232,67.5)(1238,55.8)(1244,50.0)(1250,44.2)(1256,39.1)(1262,37.2)(1267,31.4)(1273,25.6)(1279,26.9)(1285,33.7)(1291,40.7)(1297,46.5)(1303,47.7)(1308,58.1)(1314,64.7)(1320,66.3)(1327,61.6)(1332,57.0)(1338,50.0)(1343,45.3)(1350,47.0)(1356,49.3)(1361,51.2)(1365,54.7)};
\end{axis}
% ---------- date strip ----------
\begin{axis}[
  at={(11bp,-729bp)},anchor=south west,scale only axis,
  width=1366bp,height=23bp,
  xmin=11,xmax=1377,ymin=0,ymax=1,
  axis y line=none,axis x line=bottom,
  axis line style={draw=none},
  tick align=inside,
  xtick={70,198,332,454,582,709,831,959,1075,1193,1326},
  xticklabels={06.20,07.20,08.20,09.20,10.20,11.20,12.20,01.21,02.21,03.21,04.21},
  major tick length=19bp,
  tick style={black!80,line width=.9bp},
  xticklabel style={font=\fontsize{11.5}{12}\selectfont,anchor=west,text=black!85,xshift=2bp,yshift=7bp},
]
\addplot[draw=none,mark=none,forget plot] coordinates {(11,0)(1377,1)};
\end{axis}
\end{tikzpicture}
\end{document}
